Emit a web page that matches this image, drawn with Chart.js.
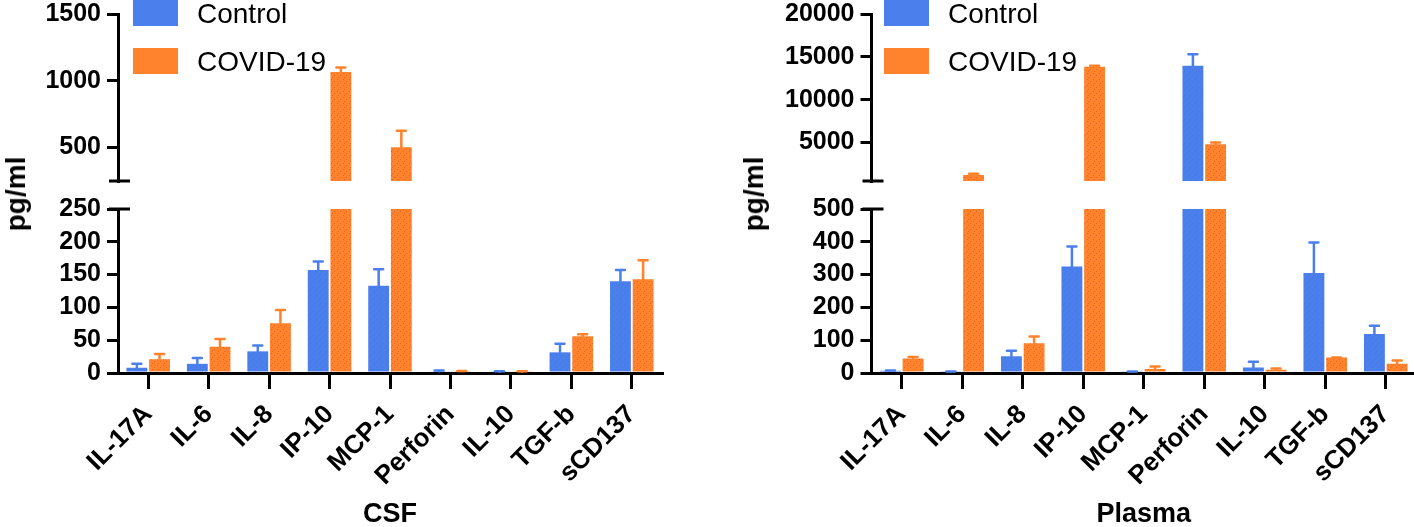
<!DOCTYPE html>
<html><head><meta charset="utf-8">
<script src="https://cdn.jsdelivr.net/npm/chart.js@4.4.0/dist/chart.umd.min.js"></script>
<style>
html,body{margin:0;padding:0;background:#fff;overflow:hidden;width:1414px;height:527px;}
#wrap{position:relative;width:1414px;height:527px;overflow:hidden;font-family:"Liberation Sans",Arial,sans-serif;}
#wrap canvas{position:absolute;}
.box{position:absolute;width:45px;height:26px;}
.lt{position:absolute;font-size:28px;line-height:28px;color:#000;white-space:nowrap;}
.yt{position:absolute;font-weight:bold;font-size:28px;line-height:28px;white-space:nowrap;transform:translate(-50%,-50%) rotate(-90deg);}
</style></head>
<body>
<div id="wrap">
  <canvas id="tl" width="700" height="190" style="left:0;top:0"></canvas>
  <canvas id="bl" width="700" height="337" style="left:0;top:190px"></canvas>
  <canvas id="tr" width="700" height="190" style="left:720px;top:0"></canvas>
  <canvas id="br" width="700" height="337" style="left:720px;top:190px"></canvas>
  <div class="yt" style="left:16px;top:194px">pg/ml</div>
  <div class="yt" style="left:754px;top:194px">pg/ml</div>
  <div class="box" id="lb1" style="left:133px;top:0"></div>
  <div class="box" id="lb2" style="left:133px;top:48px"></div>
  <div class="lt" id="lt1" style="left:197px;top:0"></div>
  <div class="lt" id="lt2" style="left:197px;top:48px"></div>
  <div class="box" id="rb1" style="left:884px;top:0"></div>
  <div class="box" id="rb2" style="left:884px;top:48px"></div>
  <div class="lt" id="rt1" style="left:948px;top:0"></div>
  <div class="lt" id="rt2" style="left:948px;top:48px"></div>
</div>
<script>
const categories = ['IL-17A','IL-6','IL-8','IP-10','MCP-1','Perforin','IL-10','TGF-b','sCD137'];
const seriesNames = ['Control','COVID-19'];
const panelTitles = ['CSF','Plasma'];
const axisTitle = 'pg/ml';

const csfControl    = [8, 14, 33, 157, 133, 2.5, 2, 31.5, 140];
const csfControlErr = [6, 9, 9, 13, 25, 1.5, 0.5, 13, 17];
const csfCovid      = [21, 40, 76, 1065, 502, 2.5, 2, 56, 143];
const csfCovidErr   = [8, 12, 20, 35, 125, 0.5, 0.5, 3, 29];

const plasmaControl    = [7, 4, 51, 325, 4, 13950, 17, 305, 119];
const plasmaControlErr = [1, 0.5, 17, 61, 0.5, 1350, 17, 93, 25];
const plasmaCovid      = [44, 1200, 91, 13835, 12, 4800, 10, 47, 28];
const plasmaCovidErr   = [5, 150, 20, 115, 8, 200, 4, 0.5, 10];

const csfLowTicks = [0, 50, 100, 150, 200, 250];
const csfHighTicks = [500, 1000, 1500];
const plasmaLowTicks = [0, 100, 200, 300, 400, 500];
const plasmaHighTicks = [5000, 10000, 15000, 20000];

const BLUE = '#4b7feb';
const ORANGE = '#ff822d';
const FONT = '"Liberation Sans", Arial, sans-serif';

function makePattern(base, dot) {
  const c = document.createElement('canvas');
  c.width = 6; c.height = 6;
  const x = c.getContext('2d');
  x.fillStyle = base; x.fillRect(0, 0, 6, 6);
  x.fillStyle = dot;
  x.fillRect(1, 1, 1, 1); x.fillRect(4, 3, 1, 1); x.fillRect(2, 5, 1, 1);
  return x.createPattern(c, 'repeat');
}
const bluePat = makePattern(BLUE, '#4276e2');
const orangePat = makePattern(ORANGE, '#e5661c');

document.getElementById('lb1').style.background = BLUE;
document.getElementById('rb1').style.background = BLUE;
document.getElementById('lb2').style.background = ORANGE;
document.getElementById('rb2').style.background = ORANGE;
['lt1','rt1'].forEach(id => document.getElementById(id).textContent = seriesNames[0]);
['lt2','rt2'].forEach(id => document.getElementById(id).textContent = seriesNames[1]);
document.querySelectorAll('.yt').forEach(d => d.textContent = axisTitle);

const errorBars = {
  id: 'errorBars',
  afterDatasetsDraw(chart) {
    const {ctx, chartArea: a} = chart;
    const ys = chart.scales.y;
    ctx.save();
    ctx.beginPath();
    ctx.rect(a.left, a.top - 2, a.right - a.left, a.bottom - a.top + 2);
    ctx.clip();
    chart.data.datasets.forEach((ds, i) => {
      const meta = chart.getDatasetMeta(i);
      ctx.strokeStyle = ds.errColor;
      ctx.lineWidth = 2.5;
      ctx.lineCap = 'round';
      meta.data.forEach((bar, j) => {
        const v = ds.data[j], e = ds.errors[j];
        if (v < ys.min || v > ys.max) return;
        const y0 = ys.getPixelForValue(v);
        const y1 = ys.getPixelForValue(v + e);
        ctx.beginPath();
        ctx.moveTo(bar.x, y0); ctx.lineTo(bar.x, y1);
        ctx.moveTo(bar.x - 4.5, y1); ctx.lineTo(bar.x + 4.5, y1);
        ctx.stroke();
      });
    });
    ctx.restore();
  }
};

const breakMarks = {
  id: 'breakMarks',
  afterDraw(chart, args, opts) {
    const {ctx, chartArea: a} = chart;
    const y = opts.where === 'bottom' ? a.bottom : a.top;
    ctx.save();
    ctx.strokeStyle = '#000'; ctx.lineWidth = 3;
    ctx.beginPath(); ctx.moveTo(a.left - 9, y); ctx.lineTo(a.left + 12, y); ctx.stroke();
    ctx.restore();
  }
};

function makeChart(id, cfg) {
  const tickFont = {family: FONT, size: 25, weight: 'bold', lineHeight: 1};
  const xFont = {family: FONT, size: 26, weight: 'bold', lineHeight: 1};
  return new Chart(document.getElementById(id), {
    type: 'bar',
    data: {
      labels: categories,
      datasets: [
        {label: seriesNames[0], data: cfg.ctrl, errors: cfg.ctrlErr, errColor: BLUE, backgroundColor: bluePat, clip: 0},
        {label: seriesNames[1], data: cfg.cov, errors: cfg.covErr, errColor: ORANGE, backgroundColor: orangePat, clip: 0}
      ]
    },
    options: {
      responsive: false,
      animation: false,
      events: [],
      categoryPercentage: 0.75,
      barPercentage: 0.92,
      layout: {autoPadding: false, padding: {top: cfg.padTop, bottom: cfg.padBottom, left: 0, right: cfg.padRight}},
      plugins: {legend: {display: false}, tooltip: {enabled: false}, breakMarks: {where: cfg.breakAt}},
      scales: {
        x: {
          display: cfg.showX,
          offset: true,
          afterFit: s => {
            if (cfg.showX) s.height = cfg.xHeight;
            s.paddingLeft = 0; s.paddingRight = 0; s.paddingTop = 0; s.paddingBottom = 0;
          },
          grid: {offset: false, drawOnChartArea: false, drawTicks: true, tickLength: 16, tickWidth: 3, lineWidth: 3, tickColor: '#000', color: '#000'},
          border: {display: true, color: '#000', width: 3},
          ticks: {autoSkip: false, minRotation: 45, maxRotation: 45, color: '#000', padding: 12, font: xFont},
          title: {display: cfg.showX, text: cfg.title, color: '#000', font: {family: FONT, size: 27, weight: 'bold', lineHeight: 0.9}, padding: {top: 4, bottom: 0}}
        },
        y: {
          min: cfg.min, max: cfg.max,
          afterFit: s => {
            s.width = cfg.yWidth;
            s.paddingLeft = 0; s.paddingRight = 0; s.paddingTop = 0; s.paddingBottom = 0;
          },
          afterBuildTicks: s => { s.ticks = cfg.ticks.map(v => ({value: v})); },
          grid: {drawOnChartArea: false, drawTicks: true, tickLength: 11, tickWidth: 3, lineWidth: 3, tickColor: '#000', color: '#000'},
          border: {display: true, color: '#000', width: 3},
          ticks: {color: '#000', padding: 6, font: tickFont, callback: v => String(v)}
        }
      }
    },
    plugins: [errorBars, breakMarks]
  });
}

makeChart('tl', {ctrl: csfControl, ctrlErr: csfControlErr, cov: csfCovid, covErr: csfCovidErr,
  ticks: csfHighTicks, min: csfLowTicks[csfLowTicks.length - 1], max: csfHighTicks[csfHighTicks.length - 1],
  yWidth: 118, padTop: 14, padBottom: 9, padRight: 38, showX: false, breakAt: 'bottom'});
makeChart('bl', {ctrl: csfControl, ctrlErr: csfControlErr, cov: csfCovid, covErr: csfCovidErr,
  ticks: csfLowTicks, min: csfLowTicks[0], max: csfLowTicks[csfLowTicks.length - 1],
  yWidth: 118, padTop: 19, padBottom: 0, padRight: 38, showX: true, xHeight: 154, title: panelTitles[0], breakAt: 'top'});
makeChart('tr', {ctrl: plasmaControl, ctrlErr: plasmaControlErr, cov: plasmaCovid, covErr: plasmaCovidErr,
  ticks: plasmaHighTicks, min: plasmaLowTicks[plasmaLowTicks.length - 1], max: plasmaHighTicks[plasmaHighTicks.length - 1],
  yWidth: 151.5, padTop: 14, padBottom: 9, padRight: 4, showX: false, breakAt: 'bottom'});
makeChart('br', {ctrl: plasmaControl, ctrlErr: plasmaControlErr, cov: plasmaCovid, covErr: plasmaCovidErr,
  ticks: plasmaLowTicks, min: plasmaLowTicks[0], max: plasmaLowTicks[plasmaLowTicks.length - 1],
  yWidth: 151.5, padTop: 19, padBottom: 0, padRight: 4, showX: true, xHeight: 154, title: panelTitles[1], breakAt: 'top'});
</script>
</body></html>
